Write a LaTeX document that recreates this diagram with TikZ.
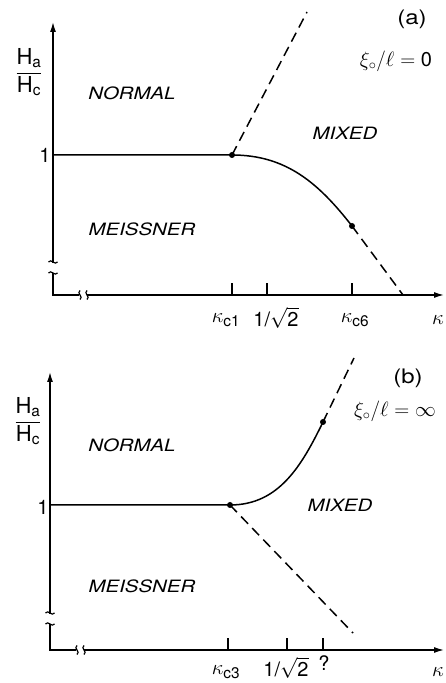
\documentclass[tikz,border=0pt]{standalone}
\usepackage{amsmath}
\usepackage{fontspec}
\setsansfont{TeX Gyre Heros}
\usetikzlibrary{arrows.meta}

\newcommand{\wide}[1]{\scalebox{1.2}[1]{#1}}
\tikzset{
  axis/.style={line width=1.4pt},
  curve/.style={line width=1.5pt},
  dashcurve/.style={line width=1.5pt,dash pattern=on 10pt off 6pt},
  region/.style={font=\fontsize{17}{19}\selectfont\sffamily\itshape},
  lbl/.style={font=\fontsize{20}{22}\selectfont\sffamily},
  klbl/.style={font=\fontsize{22}{24}\selectfont\sffamily},
  xlbl/.style={font=\fontsize{20}{22}\selectfont\sffamily},
  brkx/.pic={\draw[line width=1.2pt] (0,-4.5) .. controls (4,-2) and (-4,2) .. (0,4.5);},
  brky/.pic={\draw[line width=1.2pt] (-4.5,0) .. controls (-2,4) and (2,-4) .. (4.5,0);}
}

\begin{document}
\begin{tikzpicture}[x=1pt,y=1pt,>={Latex[length=10pt,width=6pt]},font=\sffamily]
\useasboundingbox (0,0) rectangle (446,683);
% (a)
\coordinate (oa) at (53,388); \coordinate (c1) at (232,528); \coordinate (c6) at (352,457);
\draw[axis,->] (53,420) -- (53,661); \draw[axis] (53,410) -- (oa) -- (79,388); \draw[axis,->] (87,388) -- (444,388);
\pic at (53,421) {brky}; \pic at (53,410) {brky}; \pic at (80,388) {brkx}; \pic at (87,388) {brkx};
\foreach \tx in {232,267,352} \draw[axis] (\tx,388) -- (\tx,400);
\draw[curve] (53,528) -- (c1) to[out=0,in=128] (c6);
\draw[dashcurve] (c1) -- (307,671); \draw[dashcurve] (c6) -- (403,388);
\fill (c1) circle (3pt); \fill (c6) circle (3pt);
\node[klbl] (ha) at (29,611) {$\dfrac{\text{H}_{\text{a}}}{\text{H}_{\text{c}}}$};
\node[lbl] (onea) at (45,528) {1};
\node[region] (norma) at (132,590) {\wide{NORMAL}}; \node[region] (meisa) at (142,454) {\wide{MEISSNER}}; \node[region] (mixa) at (345,550) {\wide{MIXED}};
\node[lbl] (taga) at (412,664) {\wide{(a)}}; \node[xlbl] (xia) at (396,622) {$\xi_{\circ}/\ell=\text{0}$};
\node[klbl] (k1) at (226,363) {$\kappa_{\text{c1}}$}; \node[lbl] (sqa) at (276,365) {1/$\sqrt{\text{2}}$};
\node[klbl] (k6) at (355,363) {$\kappa_{\text{c6}}$}; \node[klbl] (ka) at (438,363) {$\kappa$};
% (b)
\coordinate (ob) at (50,33); \coordinate (c3) at (230,178); \coordinate (cq) at (323,261);
\draw[axis,->] (50,69) -- (50,311); \draw[axis] (50,59) -- (ob) -- (76,33); \draw[axis,->] (84,33) -- (444,33);
\pic at (50,70) {brky}; \pic at (50,59) {brky}; \pic at (77,33) {brkx}; \pic at (84,33) {brkx};
\foreach \tx in {228,287,323} \draw[axis] (\tx,33) -- (\tx,45);
\draw[curve] (50,178) -- (c3) to[out=0,in=244] (cq);
\draw[dashcurve] (cq) -- (354,325); \draw[dashcurve] (c3) -- (353,50);
\fill (c3) circle (3pt); \fill (cq) circle (3pt);
\node[klbl] (hb) at (28,262) {$\dfrac{\text{H}_{\text{a}}}{\text{H}_{\text{c}}}$};
\node[lbl] (oneb) at (43,176) {1};
\node[region] (normb) at (132,238) {\wide{NORMAL}}; \node[region] (meisb) at (142,97) {\wide{MEISSNER}}; \node[region] (mixb) at (340,178) {\wide{MIXED}};
\node[lbl] (tagb) at (408,305) {\wide{(b)}}; \node[xlbl] (xib) at (395,272) {$\xi_{\circ}/\ell=\infty$};
\node[klbl] (k3) at (226,11) {$\kappa_{\text{c3}}$}; \node[lbl] (sqb) at (286,15) {1/$\sqrt{\text{2}}$};
\node[lbl] (qq) at (324,20) {?}; \node[klbl] (kb) at (438,11) {$\kappa$};
\end{tikzpicture}
\end{document}
